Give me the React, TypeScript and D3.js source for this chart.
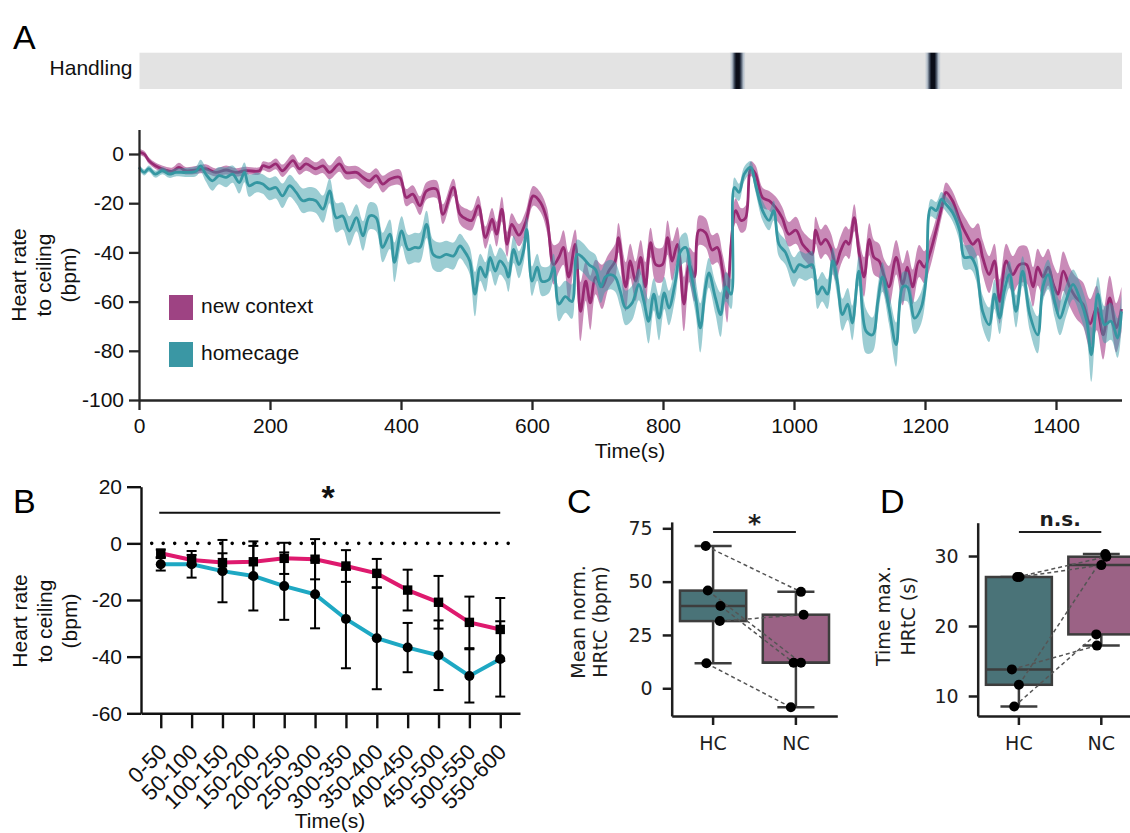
import React, { useEffect, useRef } from 'react';
import * as d3 from 'd3';

// ---- Panel A: heart rate to ceiling over time, [time (s), mean, sem]
const newContext = [
  [0, 0.8, 1.2], [8, 0, 1.2], [15, -2.7, 1.3], [25, -4.8, 1.3], [40, -6.5, 1.4], [51, -7, 1.5],
  [61, -5.4, 1.8], [71, -6.8, 1.5], [87, -6.5, 1.6], [102, -6, 1.8], [117, -7.5, 1.6], [133, -6.5, 1.8],
  [148, -7.5, 1.7], [163, -6.8, 1.6], [184, -6.8, 1.5], [189, -4.8, 1.8], [199, -5.4, 2], [209, -4, 2.2],
  [219, -6.8, 2.5], [235, -2.7, 2.6], [245, -6, 2.4], [255, -4, 2.8], [270, -6, 2.6], [281, -4.8, 3],
  [291, -7.5, 2.8], [306, -4, 3.2], [316, -7.5, 2.8], [332, -7.5, 2.6], [342, -9.5, 3], [352, -10.9, 3.2],
  [362, -8.8, 3], [372, -12.2, 3.4], [383, -10.2, 3], [398, -9.5, 3.2], [408, -17.7, 3.5], [418, -16.3, 3.6],
  [429, -21, 3.8], [439, -15, 3.5], [454, -14.3, 3.6], [464, -24.5, 4], [480, -13.6, 3.5], [490, -24.5, 4],
  [500, -26.5, 4.2], [508, -27, 4], [518, -21, 4], [529, -34, 4.5], [539, -26.5, 4.5], [546, -32.6, 5],
  [554, -22.4, 5], [562, -36.7, 5], [569, -28.6, 4.5], [580, -33, 4.5], [590, -28, 4.5], [602, -17, 4],
  [613, -19.7, 4], [623, -27, 5], [633, -45, 8], [641, -42, 6], [648, -38, 7], [656, -50, 10],
  [666, -36.7, 6], [674, -64, 12], [682, -51.7, 8], [689, -60.5, 11], [697, -50, 7], [707, -54, 9],
  [717, -47.6, 7], [727, -43.5, 7], [732, -34, 6], [743, -54, 10], [750, -43.5, 7], [758, -51.7, 8],
  [766, -42, 7], [773, -54, 10], [781, -36, 6], [789, -45, 7], [799, -45, 7], [807, -34, 7],
  [814, -43.5, 8], [822, -36.7, 7], [832, -61, 11], [840, -45, 7], [848, -50, 10], [855, -31, 6],
  [865, -32, 6], [875, -39, 6], [883, -38, 6], [891, -47.6, 7], [898, -58.5, 10], [904, -36.7, 6],
  [911, -23, 5], [919, -27, 5], [926, -26, 5], [934, -6, 3], [941, -8, 3.5], [952, -17.7, 4],
  [962, -19, 4], [972, -21.8, 4.5], [982, -26, 4.5], [992, -32.6, 5], [1003, -31, 5.5], [1013, -36.7, 5.5],
  [1020, -38.8, 5.5], [1028, -40.8, 6], [1033, -31, 5.5], [1041, -36.7, 6], [1048, -34.7, 6], [1056, -38, 6],
  [1064, -45, 6.5], [1071, -39.5, 6], [1079, -35.4, 6], [1084, -36.7, 6], [1092, -25.9, 5.5], [1099, -39.5, 6],
  [1107, -50, 8], [1115, -34.7, 6.5], [1122, -42, 7], [1130, -43.5, 7], [1138, -50, 7], [1145, -54, 8.5],
  [1156, -42, 7], [1166, -53, 8.5], [1173, -46, 7], [1181, -54, 7], [1191, -43.5, 6.5], [1199, -46, 6.5],
  [1207, -40.8, 6], [1217, -31, 5], [1227, -20, 4], [1232, -15.6, 4], [1242, -19, 4], [1253, -27, 5],
  [1263, -32.6, 6], [1273, -36.7, 6.5], [1281, -34.7, 6.5], [1288, -42, 7], [1298, -49, 7.5], [1306, -43.5, 7],
  [1314, -60, 9], [1324, -43.5, 7], [1334, -49, 7.5], [1344, -45, 7.5], [1355, -45, 7.5], [1365, -54, 8],
  [1372, -46, 7.5], [1380, -50, 8], [1388, -46, 7.5], [1396, -53, 8], [1403, -57, 8.5], [1411, -47.6, 8],
  [1421, -54, 8], [1431, -58.5, 8.5], [1441, -61, 9], [1452, -69, 10], [1462, -62.6, 9], [1472, -73.5, 10],
  [1482, -58.5, 9], [1492, -70.7, 10], [1500, -63, 9],
];

const homecage = [
  [0, -5.4, 1.2], [8, -7.5, 1.2], [15, -6, 1.3], [25, -8.2, 1.4], [36, -6.8, 1.4], [46, -8.2, 1.5],
  [56, -7.5, 1.6], [71, -7.5, 1.8], [87, -7, 2], [94, -4.8, 2.5], [102, -8.2, 3], [112, -10.9, 4],
  [122, -8.8, 3.5], [133, -9.5, 4], [143, -8.2, 3.5], [153, -11.6, 4.5], [161, -7.5, 4], [168, -12.9, 4.5],
  [179, -11.6, 4], [189, -12.2, 4], [199, -14.3, 4.5], [209, -13.6, 4.5], [219, -17, 5], [230, -12.9, 4.5],
  [240, -15.6, 4.5], [250, -19, 5], [260, -18.4, 5], [270, -19, 5], [281, -22.4, 5.5], [291, -15, 5],
  [301, -25.9, 6], [311, -25.2, 5.5], [321, -31.3, 6], [332, -25.9, 5.5], [342, -33.3, 6], [352, -25.2, 5.5],
  [362, -25.9, 5.5], [372, -38, 6], [383, -32.6, 6], [390, -44, 8], [401, -31.3, 6], [411, -38.8, 6],
  [421, -38, 6], [429, -38, 6], [439, -28.6, 5.5], [449, -40.8, 6], [459, -42, 6], [469, -40.8, 5.5],
  [480, -41.5, 5.5], [490, -37.4, 5], [498, -40, 5], [505, -43.5, 5.5], [513, -57, 9], [521, -46, 5.5],
  [529, -50, 6], [536, -42, 5.5], [544, -47.6, 6], [551, -43.5, 5.5], [559, -46, 5.5], [564, -50, 6],
  [572, -38.8, 5.5], [580, -45, 5.5], [587, -39.5, 5], [592, -30.6, 5], [600, -51.7, 6], [608, -46, 5.5],
  [615, -51.7, 6], [626, -51, 5.5], [633, -46, 5.5], [641, -61, 7], [651, -58, 6.5], [661, -60, 7],
  [669, -40.8, 6], [677, -42, 6], [687, -45, 6], [697, -47, 6], [705, -54, 6.5], [712, -50, 6],
  [720, -49, 6], [727, -50, 6], [735, -56, 6.5], [743, -62.6, 7], [753, -60.5, 7], [763, -53, 6.5],
  [771, -60, 7], [778, -68, 9], [786, -57, 6.5], [794, -66.7, 9], [802, -56.5, 6.5], [809, -62.6, 7],
  [819, -51.7, 6.5], [827, -39.5, 6], [835, -38, 6], [842, -47.6, 6.5], [850, -58.5, 7], [857, -70.7, 10],
  [865, -54, 6.5], [870, -48.3, 6], [880, -58.5, 6.5], [888, -65.3, 9], [896, -54, 6], [904, -57, 6],
  [909, -13.6, 4], [916, -15.6, 3.5], [924, -8.2, 3], [934, -5.4, 2.5], [941, -12.2, 3], [952, -23, 4],
  [962, -27, 4], [969, -23, 4], [977, -36.7, 5], [987, -40, 5], [1000, -48, 6], [1008, -45, 5.5],
  [1018, -46, 5.5], [1028, -45, 5.5], [1036, -57, 6], [1043, -54, 6], [1051, -57, 6], [1059, -43.5, 5.5],
  [1066, -51.7, 6], [1074, -65.3, 6.5], [1082, -61, 6.5], [1089, -68.7, 7], [1099, -47.6, 6], [1110, -72, 9],
  [1120, -73.5, 7], [1128, -60, 6.5], [1135, -50, 6], [1145, -62.6, 6.5], [1156, -77.5, 9], [1166, -54, 6],
  [1173, -54, 6], [1184, -66.7, 6.5], [1194, -62.6, 6.5], [1202, -50, 5.5], [1209, -21.8, 3.5], [1217, -23, 3.5],
  [1225, -18.4, 3], [1232, -20.4, 3], [1242, -23.8, 3.5], [1253, -31.3, 4.5], [1260, -42, 5], [1270, -42, 5],
  [1278, -46, 5.5], [1288, -64, 6.5], [1298, -69.4, 7], [1306, -57, 6], [1314, -66.7, 6.5], [1321, -55.8, 6],
  [1329, -49, 5.5], [1339, -64, 6.5], [1349, -47.6, 6], [1360, -65.3, 6.5], [1372, -73.5, 7.5], [1380, -54, 6],
  [1388, -49, 6], [1398, -60, 6.5], [1406, -66.7, 7], [1416, -59, 6.5], [1426, -53, 6], [1436, -58.5, 6.5],
  [1447, -68, 7], [1454, -81.6, 11], [1464, -57, 7], [1474, -69.4, 7.5], [1484, -68, 7.5], [1494, -74.8, 8],
  [1500, -64, 7],
];

const handlingTimes = [914, 1212];
const timeTicks = [0, 200, 400, 600, 800, 1000, 1200, 1400];
const hrTicks = [0, -20, -40, -60, -80, -100];

// ---- Panel B: 50 s bins
const binLabels = ['0-50', '50-100', '100-150', '150-200', '200-250', '250-300',
  '300-350', '350-400', '400-450', '450-500', '500-550', '550-600'];
const ncBinMean = [-3.5, -5.9, -6.8, -6.5, -5.3, -5.6, -8, -10.6, -16.5, -20.8, -27.9, -30.4];
const ncBinErr = [1.3, 1.8, 3.3, 5.6, 5.5, 7.1, 5.6, 5.1, 7.2, 9.3, 9.1, 11.1];
const hcBinMean = [-7.4, -7.4, -9.8, -11.5, -15.1, -18, -26.7, -33.5, -36.8, -39.5, -46.8, -40.8];
const hcBinErr = [2.2, 4.7, 11, 12.2, 11.9, 12, 17.4, 18, 8.7, 12.3, 9.4, 13.3];
const binTicks = [20, 0, -20, -40, -60];

// ---- Panels C and D: paired animals (same index = same animal)
const groups = ['HC', 'NC'];
const meanHC = [66.7, 45.8, 38.6, 31.5, 11.7];
const meanNC = [45.2, 12, 12, 34.5, -8.9];
const meanJitterHC = [-0.089, -0.064, 0.089, 0.081, -0.081];
const meanJitterNC = [0.061, 0.061, -0.028, 0.093, -0.061];
const meanTicks = [0, 25, 50, 75];

const timeMaxHC = [27, 27, 13.8, 11.6, 8.5];
const timeMaxNC = [29.9, 28.7, 17.2, 30.3, 18.8];
const timeJitterHC = [-0.021, 0.008, -0.085, 0, -0.057];
const timeJitterNC = [0.061, 0, -0.053, 0.049, -0.061];
const timeMaxTicks = [10, 20, 30];

const sans = 'Liberation Sans, Arial, Helvetica, sans-serif';
const dejavu = 'DejaVu Sans, Verdana, sans-serif';
const ink = '#1e1e1e';

function boxStats(vals: number[]) {
  const s = vals.slice().sort(d3.ascending);
  const q1 = d3.quantile(s, 0.25) as number;
  const med = d3.quantile(s, 0.5) as number;
  const q3 = d3.quantile(s, 0.75) as number;
  const iqr = q3 - q1;
  const lo = d3.min(s.filter(v => v >= q1 - 1.5 * iqr)) as number;
  const hi = d3.max(s.filter(v => v <= q3 + 1.5 * iqr)) as number;
  return { q1, med, q3, lo, hi };
}

function drawBoxPanel(svg, opts) {
  const { xRange, yDomain, yRange, hc, nc, jHC, jNC, ticks, label, sig, sigBold } = opts;
  const g = svg.append('g');
  const x = d3.scaleBand().domain(groups).range(xRange);
  const y = d3.scaleLinear().domain(yDomain).range(yRange);
  const cx = (k: string) => (x(k) as number) + x.bandwidth() / 2;
  const bw = x.bandwidth() * 0.8;
  const fills = { HC: '#4a7378', NC: '#9b6285' };

  [hc, nc].forEach((vals, i) => {
    const k = groups[i];
    const st = boxStats(vals);
    const c = cx(k);
    const bg = g.append('g').attr('stroke', '#3d3d3d').attr('stroke-width', 2.5);
    bg.append('line').attr('x1', c).attr('x2', c).attr('y1', y(st.q3)).attr('y2', y(st.hi));
    bg.append('line').attr('x1', c).attr('x2', c).attr('y1', y(st.q1)).attr('y2', y(st.lo));
    bg.append('line').attr('x1', c - bw * 0.28).attr('x2', c + bw * 0.28).attr('y1', y(st.hi)).attr('y2', y(st.hi));
    bg.append('line').attr('x1', c - bw * 0.28).attr('x2', c + bw * 0.28).attr('y1', y(st.lo)).attr('y2', y(st.lo));
    bg.append('rect').attr('x', c - bw / 2).attr('width', bw)
      .attr('y', y(st.q3)).attr('height', y(st.q1) - y(st.q3)).attr('fill', fills[k]);
    bg.append('line').attr('x1', c - bw / 2).attr('x2', c + bw / 2).attr('y1', y(st.med)).attr('y2', y(st.med));
  });

  const step = x.step();
  hc.forEach((v, i) => {
    g.append('line')
      .attr('x1', cx('HC') + jHC[i] * step).attr('y1', y(v))
      .attr('x2', cx('NC') + jNC[i] * step).attr('y2', y(nc[i]))
      .attr('stroke', '#555').attr('stroke-width', 1.5).attr('stroke-dasharray', '4,3');
  });
  g.selectAll('.hcpt').data(hc).enter().append('circle')
    .attr('cx', (d, i) => cx('HC') + jHC[i] * step).attr('cy', d => y(d)).attr('r', 5).attr('fill', '#000');
  g.selectAll('.ncpt').data(nc).enter().append('circle')
    .attr('cx', (d, i) => cx('NC') + jNC[i] * step).attr('cy', d => y(d)).attr('r', 5).attr('fill', '#000');

  const axL = g.append('g').attr('transform', `translate(${xRange[0]},0)`)
    .call(d3.axisLeft(y).tickValues(ticks).tickSize(9).tickSizeOuter(0).tickPadding(10).tickFormat(d => String(d)));
  const axB = g.append('g').attr('transform', `translate(0,${yRange[0]})`)
    .call(d3.axisBottom(x).tickSize(9).tickSizeOuter(0).tickPadding(12));
  [axL, axB].forEach(a => {
    a.attr('font-family', dejavu).attr('font-size', 19);
    a.selectAll('path, line').attr('stroke', ink).attr('stroke-width', 2.5);
    a.selectAll('text').attr('fill', ink);
  });

  // significance bar
  const sy = 532;
  g.append('line').attr('x1', cx('HC')).attr('x2', cx('NC')).attr('y1', sy).attr('y2', sy)
    .attr('stroke', ink).attr('stroke-width', 2);
  g.append('text').attr('x', (cx('HC') + cx('NC')) / 2).attr('y', sigBold ? sy - 6 : sy)
    .attr('text-anchor', 'middle').attr('font-family', dejavu)
    .attr('font-size', sigBold ? 20 : 25).attr('font-weight', 'bold')
    .attr('fill', ink).text(sig);

  // y label
  label.lines.forEach((t, i) => {
    g.append('text').attr('transform', `translate(${label.x[i]},${label.y}) rotate(-90)`)
      .attr('text-anchor', 'middle').attr('font-family', dejavu).attr('font-size', 19)
      .attr('fill', ink).text(t);
  });
}

export default function App() {
  const svgRef = useRef<SVGSVGElement>(null);

  useEffect(() => {
    const svg = d3.select(svgRef.current);
    svg.selectAll('*').remove();

    // Panel letters
    [['A', 13, 49], ['B', 13, 513], ['C', 567, 513], ['D', 880, 513]].forEach(([t, x, y]) => {
      svg.append('text').attr('x', x).attr('y', y).attr('font-family', sans)
        .attr('font-size', 34).attr('fill', '#000').text(t as string);
    });

    // ================= Panel A =================
    const xA = d3.scaleLinear().domain([0, 1500]).range([139, 1121.5]);
    const yA = d3.scaleLinear().domain([-100, 10]).range([400, 129.4]);
    const gA = svg.append('g');

    const defs = svg.append('defs');
    const grad = defs.append('linearGradient').attr('id', 'handlingGrad');
    [[0, '#e3e3e3'], [0.15, '#b4bfcb'], [0.3, '#3b4658'], [0.4, '#0a0d18'], [0.6, '#0a0d18'],
      [0.7, '#3b4658'], [0.85, '#b4bfcb'], [1, '#e3e3e3']]
      .forEach(([o, c]) => grad.append('stop').attr('offset', o as number).attr('stop-color', c as string));

    gA.append('rect').attr('x', xA(0) + 0.5).attr('y', 52.7)
      .attr('width', xA(1500) - xA(0)).attr('height', 36.3).attr('fill', '#e3e3e3');
    gA.selectAll('.evt').data(handlingTimes).enter().append('rect')
      .attr('x', d => xA(d) - 8).attr('y', 52.7).attr('width', 16).attr('height', 36.3)
      .attr('fill', 'url(#handlingGrad)');
    gA.append('text').attr('x', 132.5).attr('y', 75).attr('text-anchor', 'end')
      .attr('font-family', sans).attr('font-size', 21).attr('fill', '#111').text('Handling');

    const area = d3.area<number[]>().x(d => xA(d[0])).y0(d => yA(d[1] - d[2])).y1(d => yA(d[1] + d[2]))
      .curve(d3.curveCatmullRom);
    const line = d3.line<number[]>().x(d => xA(d[0])).y(d => yA(d[1])).curve(d3.curveCatmullRom);

    gA.append('path').datum(newContext).attr('d', area).attr('fill', '#931771').attr('fill-opacity', 0.5);
    gA.append('path').datum(newContext).attr('d', line).attr('fill', 'none')
      .attr('stroke', '#982a73').attr('stroke-width', 2.8);
    gA.append('path').datum(homecage).attr('d', area).attr('fill', '#399ba7').attr('fill-opacity', 0.5);
    gA.append('path').datum(homecage).attr('d', line).attr('fill', 'none')
      .attr('stroke', '#3597a2').attr('stroke-width', 2.8);

    const aL = gA.append('g').attr('transform', 'translate(139,0)')
      .call(d3.axisLeft(yA).tickValues(hrTicks).tickSize(10).tickSizeOuter(0).tickPadding(5).tickFormat(d => String(d)));
    const aB = gA.append('g').attr('transform', 'translate(0,400)')
      .call(d3.axisBottom(xA).tickValues(timeTicks).tickSize(10).tickSizeOuter(0).tickPadding(8).tickFormat(d => String(d)));
    [aL, aB].forEach(a => {
      a.attr('font-family', sans).attr('font-size', 21);
      a.selectAll('path, line').attr('stroke', '#262626').attr('stroke-width', 2.3);
      a.selectAll('text').attr('fill', '#111');
    });

    gA.append('text').attr('x', 630).attr('y', 458).attr('text-anchor', 'middle')
      .attr('font-family', sans).attr('font-size', 21).attr('fill', '#111').text('Time(s)');
    [['Heart rate', 26], ['to ceiling', 51], ['(bpm)', 76]].forEach(([t, x]) => {
      gA.append('text').attr('transform', `translate(${x},275) rotate(-90)`).attr('text-anchor', 'middle')
        .attr('font-family', sans).attr('font-size', 21).attr('fill', '#111').text(t as string);
    });

    // legend
    [['new context', '#9e4383', 295], ['homecage', '#3a97a4', 342]].forEach(([t, c, y]) => {
      gA.append('rect').attr('x', 169).attr('y', y as number).attr('width', 24).attr('height', 25).attr('fill', c as string);
      gA.append('text').attr('x', 201).attr('y', (y as number) + 18).attr('font-family', sans)
        .attr('font-size', 21).attr('fill', '#111').text(t as string);
    });

    // ================= Panel B =================
    const xB = d3.scalePoint().domain(binLabels).range([141, 520]).padding(0.64);
    const yB = d3.scaleLinear().domain([-60, 20]).range([713.3, 486.7]);
    const gB = svg.append('g');

    gB.append('line').attr('x1', 151.7).attr('x2', 510).attr('y1', yB(0)).attr('y2', yB(0))
      .attr('stroke', '#000').attr('stroke-width', 3.6).attr('stroke-linecap', 'round')
      .attr('stroke-dasharray', '0 11.5');

    const bl = d3.line<number>().x((d, i) => xB(binLabels[i]) as number).y(d => yB(d));
    gB.append('path').datum(hcBinMean).attr('d', bl).attr('fill', 'none').attr('stroke', '#1ea8c3').attr('stroke-width', 4);
    gB.append('path').datum(ncBinMean).attr('d', bl).attr('fill', 'none').attr('stroke', '#de1a6e').attr('stroke-width', 4);

    [[hcBinMean, hcBinErr], [ncBinMean, ncBinErr]].forEach(([m, e]) => {
      m.forEach((v, i) => {
        const x = xB(binLabels[i]) as number;
        const eg = gB.append('g').attr('stroke', '#000').attr('stroke-width', 2);
        eg.append('line').attr('x1', x).attr('x2', x).attr('y1', yB(v - e[i])).attr('y2', yB(v + e[i]));
        eg.append('line').attr('x1', x - 5).attr('x2', x + 5).attr('y1', yB(v - e[i])).attr('y2', yB(v - e[i]));
        eg.append('line').attr('x1', x - 5).attr('x2', x + 5).attr('y1', yB(v + e[i])).attr('y2', yB(v + e[i]));
      });
    });
    gB.selectAll('.hcm').data(hcBinMean).enter().append('circle')
      .attr('cx', (d, i) => xB(binLabels[i]) as number).attr('cy', d => yB(d)).attr('r', 5).attr('fill', '#000');
    gB.selectAll('.ncm').data(ncBinMean).enter().append('rect')
      .attr('x', (d, i) => (xB(binLabels[i]) as number) - 4.7).attr('y', d => yB(d) - 4.7)
      .attr('width', 9.4).attr('height', 9.4).attr('fill', '#000');

    const bL = gB.append('g').attr('transform', 'translate(141,0)')
      .call(d3.axisLeft(yB).tickValues(binTicks).tickSize(14).tickSizeOuter(0).tickPadding(5).tickFormat(d => String(d)));
    const bB = gB.append('g').attr('transform', 'translate(0,713.3)')
      .call(d3.axisBottom(xB).tickSize(15).tickSizeOuter(0));
    [bL, bB].forEach(a => {
      a.attr('font-family', sans).attr('font-size', 21);
      a.selectAll('path, line').attr('stroke', '#111').attr('stroke-width', 2.4);
      a.selectAll('text').attr('fill', '#111');
    });
    bB.selectAll('text').attr('x', 0).attr('y', 0).attr('dy', 0).attr('text-anchor', 'end')
      .attr('font-size', 22).attr('transform', 'translate(7,40) rotate(-45)');

    gB.append('line').attr('x1', (xB('0-50') as number) - 1.5).attr('x2', xB('550-600') as number)
      .attr('y1', 512.7).attr('y2', 512.7).attr('stroke', '#111').attr('stroke-width', 2);
    gB.append('text').attr('x', 328).attr('y', 509).attr('text-anchor', 'middle')
      .attr('font-family', sans).attr('font-weight', 'bold').attr('font-size', 34).attr('fill', '#111').text('*');

    gB.append('text').attr('x', 330).attr('y', 828).attr('text-anchor', 'middle')
      .attr('font-family', sans).attr('font-size', 21).attr('fill', '#111').text('Time(s)');
    [['Heart rate', 27], ['to ceiling', 52], ['(bpm)', 77]].forEach(([t, x]) => {
      gB.append('text').attr('transform', `translate(${x},621) rotate(-90)`).attr('text-anchor', 'middle')
        .attr('font-family', sans).attr('font-size', 21).attr('fill', '#111').text(t as string);
    });

    // ================= Panel C =================
    drawBoxPanel(svg, {
      xRange: [671.7, 837.3], yDomain: [-13, 78], yRange: [716, 521.9],
      hc: meanHC, nc: meanNC, jHC: meanJitterHC, jNC: meanJitterNC, ticks: meanTicks,
      label: { lines: ['Mean norm.', 'HRtC (bpm)'], x: [585, 607], y: 622 },
      sig: '*', sigBold: false,
    });

    // ================= Panel D =================
    drawBoxPanel(svg, {
      xRange: [977.7, 1142.5], yDomain: [7.14, 34.76], yRange: [716, 522.7],
      hc: timeMaxHC, nc: timeMaxNC, jHC: timeJitterHC, jNC: timeJitterNC, ticks: timeMaxTicks,
      label: { lines: ['Time max.', 'HRtC (s)'], x: [890, 915], y: 616 },
      sig: 'n.s.', sigBold: true,
    });
  }, []);

  return (
    <div style={{ position: 'absolute', left: 0, top: 0 }}>
      <svg ref={svgRef} width={1130} height={833} style={{ display: 'block', background: '#fff' }} />
    </div>
  );
}
